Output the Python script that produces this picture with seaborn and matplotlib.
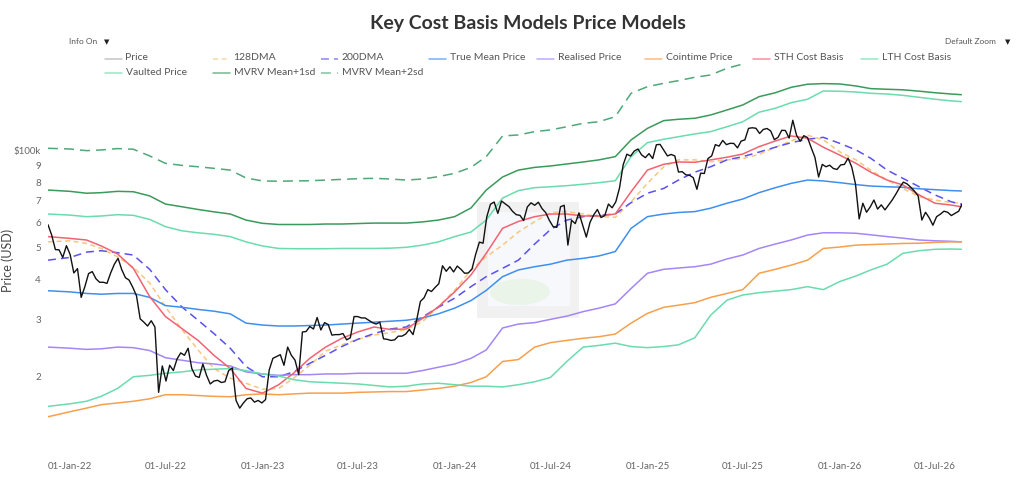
import pandas as pd
import matplotlib
matplotlib.use("Agg")
import matplotlib.pyplot as plt
from matplotlib.lines import Line2D
from matplotlib.patches import Rectangle, Ellipse
from matplotlib.ticker import FixedLocator, FixedFormatter, NullLocator
import matplotlib.dates as mdates
import seaborn as sns

# Weekly BTC price in thousand USD, starting 2021-11-20
price_k = [
    59.0, 54.8, 49.4, 49.3, 46.7, 50.8,
    # 2022
    47.7, 41.8, 43.1, 35.1, 37.9,
    41.6, 42.2, 40.1, 39.1,
    39.1, 38.8, 41.8, 44.5,
    46.4, 42.8, 40.4, 39.7, 37.7,
    35.5, 30.1, 29.4, 28.6,
    29.7, 28.4, 17.8, 21.5,
    19.3, 21.6, 20.8, 22.6, 23.6,
    23.2, 24.4, 21.1, 20.0,
    19.8, 21.8, 20.1, 18.9,
    19.3, 19.4, 19.1, 19.2, 20.8,
    21.2, 16.8, 15.9, 16.5,
    17.0, 17.1, 16.6, 16.8, 16.5,
    # 2023
    16.9, 20.9, 22.7, 23.0,
    23.3, 21.6, 24.6, 23.2,
    22.4, 20.2, 27.4, 27.5,
    28.5, 28.0, 30.4, 27.8, 29.3,
    28.9, 26.8, 26.9, 26.9,
    27.1, 25.9, 26.3, 30.6,
    30.6, 30.3, 30.3, 29.8, 29.3,
    29.0, 29.4, 26.1, 26.0,
    25.8, 25.9, 26.6, 26.6, 27.0,
    27.9, 26.9, 29.9, 34.1,
    35.0, 37.1, 36.6, 37.7,
    38.7, 44.0, 42.3, 43.7, 42.1,
    # 2024
    43.9, 42.9, 41.7, 41.8,
    43.0, 47.8, 52.1, 51.7,
    62.4, 68.3, 69.4, 64.0, 69.9,
    68.5, 67.2, 64.9, 63.4,
    63.1, 60.8, 67.0, 69.0,
    67.8, 69.3, 66.2, 64.3, 60.8,
    58.2, 57.9, 67.1, 67.8,
    51.0, 60.9, 59.5, 64.2, 58.9,
    54.0, 60.0, 63.3, 65.8,
    62.1, 63.0, 68.4, 66.6,
    69.5, 76.7, 90.6, 97.7, 96.4,
    99.9, 101.4, 97.2, 95.3,
    # 2025
    98.1, 94.7, 104.5, 104.8,
    100.6, 96.5, 97.5, 96.5,
    86.0, 86.2, 84.3, 84.0, 82.6,
    76.0, 85.3, 85.1, 94.7,
    96.5, 104.6, 103.5, 107.8, 104.6,
    105.6, 105.5, 102.2, 107.3,
    108.2, 117.5, 118.0, 117.6,
    113.3, 116.6, 117.4, 115.4, 108.4,
    110.2, 115.9, 115.7, 109.6,
    124.5, 112.0, 107.2, 111.5,
    110.0, 102.3, 95.5, 83.0, 90.8,
    89.3, 90.3, 88.2, 87.6,
    # 2026
    90.5, 90.8, 95.0, 89.0, 79.0,
    61.5, 68.8, 64.5, 67.0,
    70.4, 66.0, 68.0, 65.6,
    68.0, 70.5, 73.6, 77.1,
    80.0, 79.0, 77.1, 75.0, 72.5,
    61.0, 64.5, 62.0, 58.8,
    62.5, 63.6, 65.0, 64.5,
    63.0, 64.0, 65.0, 68.8,
]
price_dates = pd.date_range("2021-11-20", periods=len(price_k), freq="7D")

# Model lines in thousand USD: 2021-11-20, first of each month 2022-01..2026-08, 2026-08-20
model_dates = pd.DatetimeIndex(
    [pd.Timestamp("2021-11-20")]
    + list(pd.date_range("2022-01-01", "2026-08-01", freq="MS"))
    + [pd.Timestamp("2026-08-20")]
)

dma128_k = [52.2,
    52.6, 51.6, 49.8, 46.9, 43.5, 38.9, 32.8, 27.9, 24.1, 21.1, 19.7, 19.0,
    18.2, 18.3, 19.7, 21.6, 23.9, 25.0, 26.0, 26.8, 27.3, 27.9, 29.5, 32.8,
    36.9, 42.7, 46.9, 51.0, 56.0, 60.3, 64.4, 64.8, 63.7, 62.5, 62.2, 69.5,
    79.3, 89.3, 93.8, 93.8, 92.6, 93.8, 94.6, 97.6, 102.7, 107.4, 111.9, 108.2,
    99.4, 93.8, 87.2, 81.2, 76.5, 72.1, 70.4, 69.1,
    68.8]
dma200_k = [45.8,
    46.7, 48.5, 49.0, 48.3, 47.5, 42.9, 37.1, 32.8, 29.8, 27.1, 24.4, 21.4,
    19.9, 19.9, 20.6, 21.9, 23.2, 24.7, 26.0, 27.1, 28.0, 28.4, 30.5, 32.7,
    34.9, 37.9, 40.7, 43.2, 45.8, 51.4, 57.0, 61.0, 62.5, 63.1, 63.7, 69.1,
    73.9, 76.5, 81.2, 85.9, 89.3, 93.8, 96.0, 99.2, 102.7, 106.1, 108.7, 110.2,
    105.6, 100.7, 94.9, 87.2, 82.2, 77.4, 73.0, 69.5,
    68.4]
true_mean_k = [36.8,
    36.5, 36.1, 35.9, 36.1, 36.1, 35.1, 33.1, 32.7, 32.2, 31.8, 31.2, 29.2,
    28.8, 28.6, 28.6, 28.7, 28.8, 29.0, 29.2, 29.4, 29.6, 29.8, 30.3, 31.2,
    32.5, 34.3, 36.9, 40.7, 42.7, 43.7, 44.5, 45.8, 46.4, 47.2, 48.7, 57.5,
    62.5, 63.7, 64.4, 64.8, 66.4, 68.8, 70.9, 74.2, 76.9, 79.3, 81.2, 80.7,
    79.7, 78.6, 77.8, 77.4, 77.1, 76.3, 75.8, 75.3,
    75.1]
realised_k = [24.6,
    24.4, 24.2, 24.3, 24.6, 24.5, 24.0, 22.8, 22.4, 22.0, 21.8, 21.5, 20.6,
    20.3, 20.1, 20.2, 20.2, 20.3, 20.3, 20.4, 20.4, 20.4, 20.4, 20.8, 21.3,
    21.8, 22.7, 24.1, 28.2, 29.0, 29.3, 30.0, 30.7, 31.7, 32.5, 33.5, 37.4,
    41.7, 42.9, 43.3, 43.7, 44.5, 46.2, 47.5, 49.8, 51.4, 52.9, 54.8, 55.7,
    55.7, 55.5, 54.9, 54.2, 53.6, 52.9, 52.6, 52.4,
    52.2]
cointime_k = [14.95,
    15.5, 15.9, 16.3, 16.5, 16.7, 17.0, 17.5, 17.5, 17.4, 17.3, 17.25, 17.5,
    17.6, 17.5, 17.6, 17.7, 17.7, 17.7, 17.8, 17.85, 17.9, 17.9, 18.1, 18.3,
    18.6, 19.1, 19.9, 22.2, 22.5, 24.6, 25.4, 25.8, 26.2, 26.5, 27.0, 29.2,
    31.3, 32.7, 33.2, 33.8, 35.1, 36.1, 37.1, 41.7, 42.9, 44.2, 45.8, 49.8,
    50.3, 51.0, 51.2, 51.4, 51.6, 51.7, 52.0, 52.2,
    52.2]
sth_k = [54.2,
    53.5, 52.9, 50.7, 47.9, 43.2, 35.3, 30.6, 28.1, 25.8, 23.2, 21.1, 18.3,
    17.7, 18.8, 20.4, 22.7, 24.6, 26.2, 27.4, 28.4, 27.9, 28.0, 30.2, 32.8,
    36.5, 41.2, 48.1, 57.5, 60.4, 62.5, 63.7, 63.7, 62.8, 62.8, 63.7, 74.7,
    87.2, 90.9, 92.4, 92.2, 93.8, 95.6, 97.8, 103.1, 107.4, 111.3, 109.5, 102.7,
    97.1, 91.5, 85.9, 81.2, 78.4, 73.0, 68.8, 67.9,
    67.1]
lth_k = [16.1,
    16.4, 16.7, 17.3, 18.3, 19.9, 20.1, 20.4, 20.6, 20.9, 21.0, 21.1, 20.8,
    20.3, 20.0, 19.5, 19.2, 19.1, 19.0, 18.9, 18.7, 18.5, 18.6, 18.9, 19.0,
    18.8, 18.6, 18.6, 18.5, 18.8, 19.2, 19.8, 22.2, 24.6, 24.9, 25.3, 24.7,
    24.5, 24.7, 25.0, 26.3, 30.9, 34.4, 35.7, 36.3, 36.7, 37.1, 37.9, 37.1,
    39.3, 40.9, 42.7, 44.5, 48.1, 49.0, 49.5, 49.6,
    49.5]
vaulted_k = [63.7,
    63.2, 62.5, 62.8, 63.4, 63.1, 61.3, 58.2, 56.5, 55.7, 55.1, 54.2, 52.2,
    50.7, 49.8, 49.7, 49.7, 49.7, 49.8, 49.8, 49.8, 49.9, 50.2, 51.0, 52.2,
    54.2, 56.0, 61.0, 71.4, 75.3, 76.9, 77.4, 78.0, 78.8, 79.7, 80.8, 96.0,
    106.1, 108.7, 110.7, 112.9, 114.8, 118.9, 123.2, 131.9, 135.7, 141.2, 144.7, 153.5,
    153.2, 152.4, 151.0, 150.2, 148.8, 146.7, 144.7, 143.0,
    142.3]
mvrv_1sd_k = [75.6,
    74.9, 73.9, 74.2, 74.9, 74.7, 72.5, 68.4, 67.1, 65.8, 64.7, 63.7, 61.0,
    59.6, 59.1, 59.1, 59.1, 59.3, 59.3, 59.5, 59.7, 59.7, 59.7, 60.2, 61.0,
    62.5, 66.5, 75.6, 83.0, 87.2, 88.9, 89.8, 91.1, 92.4, 93.8, 96.0, 108.2,
    117.5, 124.2, 125.4, 126.3, 129.3, 134.0, 138.9, 147.4, 151.6, 157.6, 161.1, 161.8,
    161.4, 159.1, 156.1, 155.4, 154.8, 153.3, 151.6, 150.2,
    149.5]
mvrv_2sd_k = [101.9,
    101.4, 100.2, 100.7, 101.7, 101.2, 96.5, 91.5, 90.2, 89.3, 88.3, 87.2, 82.4,
    80.7, 80.5, 80.7, 80.8, 81.2, 81.6, 82.0, 82.2, 81.8, 81.2, 81.8, 83.2,
    85.2, 88.9, 96.0, 111.3, 112.1, 114.8, 116.2, 118.9, 121.8, 123.2, 127.8, 151.0,
    158.3, 162.2, 165.3, 169.3, 172.1, 180.6, 186.1, 198.6, 204.4, 213.3, 217.9, 219.5,
    217.9, 214.8, 210.3, 210.3, 208.8, 207.3, 204.4, 202.9,
    201.5]

series_names = ["128DMA", "200DMA", "True Mean Price", "Realised Price",
                "Cointime Price", "STH Cost Basis", "LTH Cost Basis",
                "Vaulted Price", "MVRV Mean+1sd", "MVRV Mean+2sd"]
series_values = [dma128_k, dma200_k, true_mean_k, realised_k, cointime_k,
                 sth_k, lth_k, vaulted_k, mvrv_1sd_k, mvrv_2sd_k]

legend_order = ["Price", "128DMA", "200DMA", "True Mean Price", "Realised Price",
                "Cointime Price", "STH Cost Basis", "LTH Cost Basis",
                "Vaulted Price", "MVRV Mean+1sd", "MVRV Mean+2sd"]

x_tick_dates = ["2022-01-01", "2022-07-01", "2023-01-01", "2023-07-01", "2024-01-01",
                "2024-07-01", "2025-01-01", "2025-07-01", "2026-01-01", "2026-07-01"]
y_tick_values = [20000, 30000, 40000, 50000, 60000, 70000, 80000, 90000, 100000]
y_tick_labels = ["2", "3", "4", "5", "6", "7", "8", "9", "$100k"]

# styles
colors = {
    "Price": "#111111",
    "128DMA": "#f7c77e",
    "200DMA": "#5b50f0",
    "True Mean Price": "#3f8ff0",
    "Realised Price": "#a486f7",
    "Cointime Price": "#f6a04d",
    "STH Cost Basis": "#f26272",
    "LTH Cost Basis": "#6adcae",
    "Vaulted Price": "#6adcae",
    "MVRV Mean+1sd": "#3a9a5c",
    "MVRV Mean+2sd": "#4fa878",
}
dashes = {name: "" for name in series_names}
dashes["128DMA"] = (3.3, 2.3)
dashes["200DMA"] = (5.2, 3.3)
dashes["MVRV Mean+2sd"] = (6.5, 4.0)

# long-form table for seaborn
frames = []
for name, vals in zip(series_names, series_values):
    frames.append(pd.DataFrame({"date": model_dates,
                                "value": [v * 1000 for v in vals],
                                "series": name}))
models = pd.concat(frames, ignore_index=True)
price = pd.DataFrame({"date": price_dates, "value": [v * 1000 for v in price_k]})

sns.set_theme(style="white")
plt.rcParams["font.family"] = ["Lato", "DejaVu Sans"]

W, H = 1024, 483
fig = plt.figure(figsize=(W / 100, H / 100), dpi=100)
ax = fig.add_axes([48 / W, 31 / H, 914.4 / W, 389 / H])

# faint watermark logo behind the lines
ax.add_patch(Rectangle((477 / W, 1 - 318 / H), 102 / W, 116 / H, transform=fig.transFigure,
                       facecolor="#f1f1f1", edgecolor="none", zorder=0.5))
ax.add_patch(Rectangle((488 / W, 1 - 306 / H), 82 / W, 94 / H, transform=fig.transFigure,
                       facecolor="#f6f8fc", edgecolor="none", zorder=0.6))
ax.add_patch(Ellipse((520 / W, 1 - 292 / H), 60 / W, 26 / H, angle=15,
                     transform=fig.transFigure, facecolor="#ebf4e9",
                     edgecolor="none", zorder=0.7))

sns.lineplot(data=price, x="date", y="value", color=colors["Price"],
             linewidth=1.0, estimator=None, ax=ax, legend=False, zorder=3)
sns.lineplot(data=models, x="date", y="value", hue="series", style="series",
             hue_order=series_names, style_order=series_names,
             palette={k: colors[k] for k in series_names}, dashes=dashes,
             linewidth=1.1, estimator=None, ax=ax, legend=False, zorder=2)

ax.set_yscale("log")
ax.set_ylim(11620, 187500)
ax.set_xlim(price_dates[0], price_dates[-1])

ax.yaxis.set_major_locator(FixedLocator(y_tick_values))
ax.yaxis.set_major_formatter(FixedFormatter(y_tick_labels))
ax.yaxis.set_minor_locator(NullLocator())
ax.xaxis.set_major_locator(FixedLocator(mdates.date2num(pd.to_datetime(x_tick_dates))))
ax.xaxis.set_major_formatter(mdates.DateFormatter("%d-%b-%y"))
ax.tick_params(axis="both", length=0, labelsize=7, labelcolor="#666666")
ax.tick_params(axis="y", pad=5)
ax.tick_params(axis="x", pad=7)
ax.set_xlabel("")
ax.set_ylabel("")
sns.despine(ax=ax, left=True, bottom=True)

# title and header controls
fig.text(528 / W, 1 - 24 / H, "Key Cost Basis Models Price Models", ha="center",
         va="center", fontsize=14, fontweight="bold", color="#333333")
fig.text(69 / W, 1 - 42 / H, "Info On", ha="left", va="center", fontsize=6, color="#555555")
fig.text(107 / W, 1 - 42 / H, "▼", ha="center", va="center", fontsize=5, color="#222222")
fig.text(945 / W, 1 - 42 / H, "Default Zoom", ha="left", va="center", fontsize=6, color="#555555")
fig.text(1008 / W, 1 - 42 / H, "▼", ha="center", va="center", fontsize=5, color="#222222")
fig.text(8 / W, 1 - 260 / H, "Price (USD)", rotation=90, ha="center", va="center",
         fontsize=9, color="#444444")

# legend, two rows like the original
for i, name in enumerate(legend_order):
    row, col = divmod(i, 8)
    x0 = (104.5 + 108 * col) / W
    y = 1 - (57.5 + 14.7 * row) / H
    dash = dashes.get(name, "")
    ls = (0, dash) if dash else "-"
    color = "#aaaaaa" if name == "Price" else colors[name]
    fig.add_artist(Line2D([x0, x0 + 17 / W], [y - 1 / H, y - 1 / H], transform=fig.transFigure,
                          color=color, lw=1.1, alpha=0.7, linestyle=ls))
    fig.text(x0 + 21 / W, y, name, ha="left", va="center", fontsize=7.5, color="#555555")

fig.savefig("out.png", dpi=100, facecolor="white")
